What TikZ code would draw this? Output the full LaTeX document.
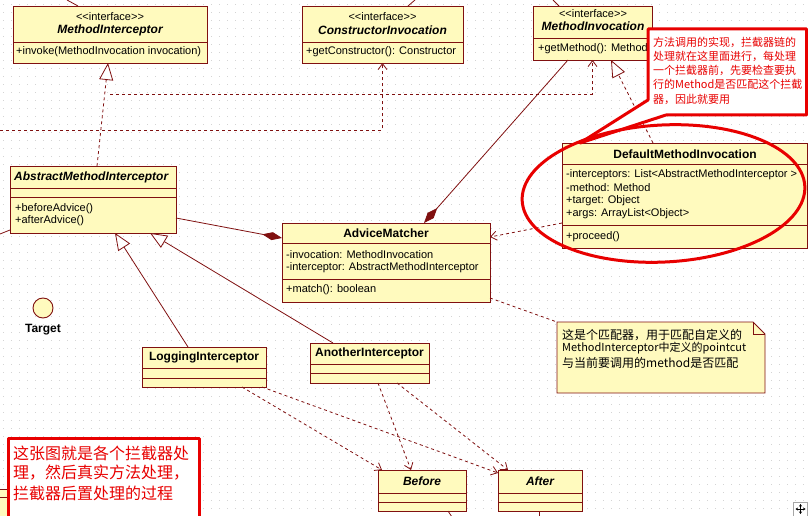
\documentclass[tikz,border=0pt]{standalone}
\usepackage{fontspec}
\setmainfont{Liberation Sans}
\newfontfamily\cjk{Noto Sans CJK SC}
\usetikzlibrary{arrows.meta,shapes.geometric}
\definecolor{clsfill}{RGB}{255,250,190}
\definecolor{clsline}{RGB}{128,16,16}
\definecolor{redmark}{RGB}{232,0,0}
\definecolor{griddot}{RGB}{212,212,212}
\newcommand\umlcls[6]{%
  \pgfmathsetmacro\umlW{#4-#2}\pgfmathsetmacro\umlH{#5-#3}%
  \node[cls,minimum width=\umlW pt,minimum height=\umlH pt] (#1) at ({(#2+#4)/2},{(#3+#5)/2}) {};
  \foreach \d in {#6} {\draw[div] (#1.west |- 0,\d) -- (#1.east |- 0,\d);}
}
\newcommand\lgl{<\kern0pt<}
\newcommand\rgl{>\kern0pt>}
\begin{document}
\begin{tikzpicture}[x=1pt,y=-1pt,
  cls/.style={draw=clsline,fill=clsfill,line width=0.9pt,inner sep=0pt,outer sep=0pt},
  div/.style={draw=clsline,line width=0.9pt},
  txt/.style={inner sep=0pt,font=\fontsize{11}{13}\selectfont,text=black},
  ttl/.style={inner sep=0pt,font=\fontsize{12}{14}\selectfont\bfseries,text=black},
  ittl/.style={inner sep=0pt,font=\fontsize{12}{14}\selectfont\bfseries\itshape,text=black},
  conn/.style={draw=clsline,line width=0.8pt},
  gen/.style={conn,-{Triangle[open,length=17pt,width=14pt,fill=white]}},
  real/.style={gen,dash pattern=on 3pt off 3pt},
  dep/.style={conn,dash pattern=on 3pt off 3pt,-{Straight Barb[length=6pt,width=9pt]}},
  link/.style={conn,dash pattern=on 3pt off 3pt},
  comp/.style={conn,{Diamond[length=20pt,width=8pt,fill=clsline]}-},
  callout/.style={draw=redmark,fill=white,line width=3pt,line join=round},
  redtxt/.style={inner sep=0pt,anchor=west,text=redmark,font=\cjk\fontsize{11}{13}\selectfont},
  bigred/.style={inner sep=0pt,anchor=west,text=redmark,font=\cjk\fontsize{16}{20}\selectfont},
  notetxt/.style={inner sep=0pt,anchor=west,text=black,font=\cjk\fontsize{12}{14}\selectfont},
]
\fill[white] (0,0) rectangle (808,516);
\useasboundingbox (0,0) rectangle (808,516);
\foreach \y in {4,12,...,516}
  \draw[griddot,line width=0.9pt,dash pattern=on 1pt off 7pt] (3,\y) -- (808,\y);

% classes
\umlcls{mi}{13}{6}{207}{63}{42}
\node[txt] (mi-s) at (110,17) {\lgl interface\rgl};
\node[ittl] (mi-t) at (110,30) {MethodInterceptor};
\node[txt,anchor=west] (mi-m) at (16,52) {+invoke(MethodInvocation invocation)};

\umlcls{ci}{302}{6}{463}{63}{42}
\node[txt] (ci-s) at (382.5,17) {\lgl interface\rgl};
\node[ittl] (ci-t) at (382.5,30) {ConstructorInvocation};
\node[txt,anchor=west] (ci-m) at (306,52) {+getConstructor(): Constructor};

\umlcls{minv}{533}{6}{652}{60}{38}
\node[txt] (minv-s) at (593,14) {\lgl interface\rgl};
\node[ittl] (minv-t) at (593,26) {MethodInvocation};
\node[txt,anchor=west] (minv-m) at (538,49) {+getMethod(): Method};

\umlcls{ami}{10}{166}{176}{233}{188,197}
\node[ittl,anchor=west] (ami-t) at (14,177) {AbstractMethodInterceptor};
\node[txt,anchor=west] (ami-m1) at (15,209) {+beforeAdvice()};
\node[txt,anchor=west] (ami-m2) at (15,221) {+afterAdvice()};

\umlcls{am}{282}{223}{490}{302}{243,279}
\node[ttl] (am-t) at (386,233) {AdviceMatcher};
\node[txt,anchor=west] (am-a1) at (286,255) {-invocation: MethodInvocation};
\node[txt,anchor=west] (am-a2) at (286,268) {-interceptor: AbstractMethodInterceptor};
\node[txt,anchor=west] (am-m) at (286,290) {+match(): boolean};

\umlcls{dmi}{562}{143}{807}{248}{164,225}
\node[ttl] (dmi-t) at (685,154) {DefaultMethodInvocation};
\node[txt,anchor=west] (dmi-a1) at (566,175) {-interceptors: List<AbstractMethodInterceptor >};
\node[txt,anchor=west] (dmi-a2) at (566,188) {-method: Method};
\node[txt,anchor=west] (dmi-a3) at (566,201) {+target: Object};
\node[txt,anchor=west] (dmi-a4) at (566,214) {+args: ArrayList<Object>};
\node[txt,anchor=west] (dmi-m) at (566,237) {+proceed()};

\umlcls{li}{142}{347}{266}{387}{368,378}
\node[ttl] (li-t) at (204,357) {LoggingInterceptor};
\umlcls{ai}{310}{343}{429}{383}{364,373}
\node[ttl] (ai-t) at (369.5,353) {AnotherInterceptor};
\umlcls{bef}{378}{470}{466}{511}{493,502}
\node[ittl] (bef-t) at (422,481) {Before};
\umlcls{aft}{498}{470}{582}{511}{493,502}
\node[ittl] (aft-t) at (540,481) {After};

\node[cls,circle,minimum size=20pt] (tgt) at (43,308) {};
\node[ttl] (tgt-l) at (43,330) {Target};

% partial box at the left edge
\umlcls{edge}{-6}{489}{9}{522}{497}

% connectors
\draw[real] ([xshift=87pt]ami.north west) -- ([xshift=95pt]mi.south west);
\coordinate (d1s) at (110,94);
\draw[dep] (d1s) -- (d1s -| minv.south) -- (minv.south);
\coordinate (d2s) at (0,130);
\draw[dep] (d2s) -- (d2s -| ci.south) -- (ci.south);
\draw[real] ([xshift=91pt]dmi.north west) -- ([xshift=78pt]minv.south west);
\draw[comp] ([xshift=142pt]am.north west) -- ([xshift=35pt]minv.south west);
\draw[comp] ([yshift=-15pt]am.north west) -- ([yshift=-52pt]ami.north east);
\draw[dep] ([yshift=-80pt]dmi.north west) -- ([yshift=-14pt]am.north east);
\draw[gen] ([xshift=46pt]li.north west) -- ([xshift=105pt]ami.south west);
\draw[gen] ([xshift=23pt]ai.north west) -- ([xshift=140pt]ami.south west);
\draw[dep] ([xshift=100pt]li.south west) -- ([xshift=4pt]bef.north west);
\draw[dep] ([xshift=120pt]li.south west) -- ([yshift=-3pt]aft.north west);
\draw[dep] ([xshift=68pt]ai.south west) -- ([xshift=33pt]bef.north west);
\draw[dep] ([xshift=87pt]ai.south west) -- ([xshift=10pt]aft.north west);
% stubs running off the picture
\coordinate (s1) at (67,0);  \draw[conn] ([xshift=65pt]mi.north west) -- (s1);
\coordinate (s2) at (415,0); \draw[conn] ([xshift=106pt]ci.north west) -- (s2);
\coordinate (s3) at (553,0); \draw[conn] ([xshift=26pt]minv.north west) -- (s3);
\coordinate (s4) at (0,234); \draw[conn] ([yshift=3pt]ami.south west) -- (s4);
\coordinate (s5) at (452,517); \draw[conn] ([xshift=70pt]bef.south west) -- (s5);
\coordinate (s6) at (539,517); \draw[conn] ([xshift=41pt]aft.south west) -- (s6);

% note
\node[minimum width=208pt,minimum height=71pt,inner sep=0pt,outer sep=0pt] (note) at (661,357.5) {};
\draw[cls] (note.north west) -- ([xshift=-12pt]note.north east) -- ([yshift=-12pt]note.north east)
  -- (note.south east) -- (note.south west) -- cycle;
\draw[div] ([xshift=-12pt]note.north east) -- ([xshift=-12pt,yshift=-12pt]note.north east) -- ([yshift=-12pt]note.north east);
\draw[link] ([yshift=4pt]am.south east) -- (note.north west);
\node[notetxt] (n1) at (562,335) {这是个匹配器，用于匹配自定义的};
\node[notetxt,font=\cjk\fontsize{11}{13}\selectfont] (n2) at (562,348) {MethodInterceptor中定义的pointcut};
\node[notetxt] (n3) at (562,363) {与当前要调用的method是否匹配};

% red annotations
\path[callout] (648,29) -- (806.5,29) -- (806.5,115) -- (666,115) -- (580,143) -- (648,100) -- cycle;
\node[redtxt] (c1) at (653,42) {方法调用的实现，拦截器链的};
\node[redtxt] (c2) at (653,56) {处理就在这里面进行，每处理};
\node[redtxt] (c3) at (653,70) {一个拦截器前，先要检查要执};
\node[redtxt] (c4) at (653,84) {行的Method是否匹配这个拦截};
\node[redtxt] (c5) at (653,99) {器，因此就要用};
\draw[redmark,line width=3pt,rotate around={3:(663.5,193.5)}] (663.5,193.5) ellipse [x radius=141.5,y radius=68.5];

\draw[callout] (8,438) rectangle (199,522);
\node[bigred] (r1) at (13,453) {这张图就是各个拦截器处};
\node[bigred] (r2) at (13,473) {理，然后真实方法处理，};
\node[bigred] (r3) at (13,493) {拦截器后置处理的过程};

% move icon
\node[draw=gray!70,fill=white,minimum size=14pt,inner sep=0pt,line width=0.6pt] (mv) at (800.5,509) {};
\draw[black,line width=0.6pt,{Stealth[length=2.5pt,width=3pt]}-{Stealth[length=2.5pt,width=3pt]}] ([xshift=-5pt]mv.center) -- ([xshift=5pt]mv.center);
\draw[black,line width=0.6pt,{Stealth[length=2.5pt,width=3pt]}-{Stealth[length=2.5pt,width=3pt]}] ([yshift=-5pt]mv.center) -- ([yshift=5pt]mv.center);
\end{tikzpicture}
\end{document}
